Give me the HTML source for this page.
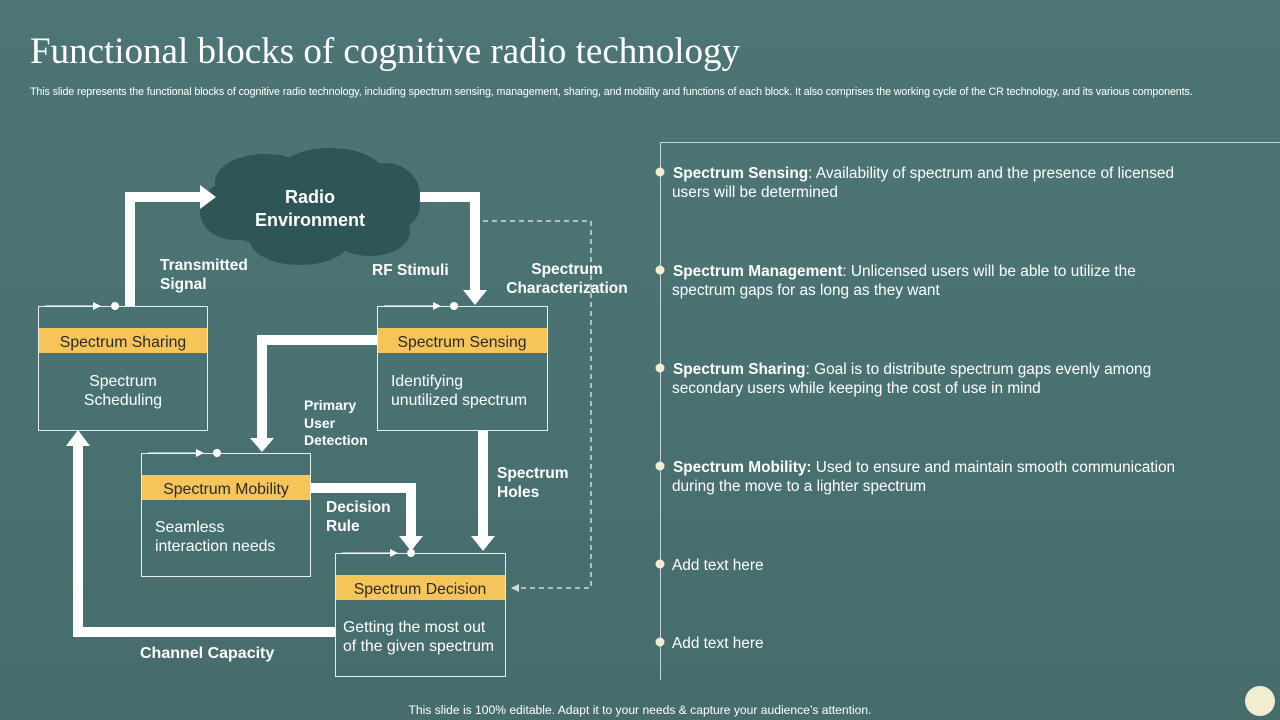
<!DOCTYPE html>
<html><head><meta charset="utf-8"><style>
body{margin:0}
#s{position:relative;width:1280px;height:720px;overflow:hidden;background:linear-gradient(180deg,#4d7575 0%,#4a7272 50%,#466c6c 100%);font-family:"Liberation Sans",sans-serif;color:#fff}
.t{position:absolute;white-space:nowrap}
</style></head><body><div id="s">
<div class="t" style="left:30px;top:30px;font-family:'Liberation Serif',serif;font-size:37px;">Functional blocks of cognitive radio technology</div>
<div class="t" style="left:30px;top:86px;font-size:10.7px;letter-spacing:-0.1px">This slide represents the functional blocks of cognitive radio technology, including spectrum sensing, management,  sharing, and mobility  and functions of each block. It also comprises the working cycle of the CR technology, and its various components.</div>
<svg width="1280" height="720" style="position:absolute;left:0;top:0" font-family="Liberation Sans, sans-serif">
<defs><marker id="a" markerWidth="8" markerHeight="8" refX="7" refY="4" orient="auto" markerUnits="userSpaceOnUse"><path d="M0,0L8,4L0,8z" fill="#fff"/></marker>
<marker id="d" markerWidth="8" markerHeight="8" refX="7" refY="4" orient="auto" markerUnits="userSpaceOnUse"><path d="M0,0L8,4L0,8z" fill="#cfdcdc"/></marker></defs>
<g fill="#2f5656">
<ellipse cx="310" cy="207" rx="110" ry="42"/><ellipse cx="265" cy="182" rx="50" ry="28"/><ellipse cx="330" cy="176" rx="55" ry="28"/><ellipse cx="385" cy="195" rx="35" ry="32"/><ellipse cx="235" cy="212" rx="35" ry="28"/><ellipse cx="300" cy="240" rx="50" ry="25"/><ellipse cx="370" cy="232" rx="40" ry="24"/>
</g>
<text x="310" y="203" text-anchor="middle" font-size="18" font-weight="bold" fill="#fff">Radio</text>
<text x="310" y="226" text-anchor="middle" font-size="18" font-weight="bold" fill="#fff">Environment</text>
<path d="M483,221H591V588H512" fill="none" stroke="#cfdcdc" stroke-width="1.5" stroke-dasharray="5,4" marker-end="url(#d)"/>
<g fill="none" stroke="#fff" stroke-width="10">
<path d="M130,306V197H200"/><path d="M420,197H475V292"/><path d="M377,340H262V440"/><path d="M483,430V538"/><path d="M310,488H411V538"/><path d="M335,632H78V444"/>
</g>
<g fill="#fff">
<path d="M200,185L216,197L200,209z"/><path d="M463,290L475,305L487,290z"/><path d="M250,438L262,452L274,438z"/><path d="M471,536L483,551L495,536z"/><path d="M399,536L411,551L423,536z"/><path d="M66,446L78,430L90,446z"/>
</g>
<g fill="none" stroke="#e8eeee" stroke-width="1">
<rect x="38.5" y="306.5" width="169" height="124"/><rect x="377.5" y="306.5" width="170" height="124"/><rect x="141.5" y="453.5" width="169" height="123"/><rect x="335.5" y="553.5" width="170" height="123"/>
</g>
<g fill="#f6c55a"><rect x="39" y="328" width="168" height="25"/><rect x="378" y="328" width="169" height="25"/><rect x="142" y="475" width="168" height="25"/><rect x="336" y="575" width="169" height="25"/></g>
<g fill="#fff"><circle cx="115" cy="306" r="4"/><circle cx="454" cy="306" r="4"/><circle cx="217" cy="453" r="4"/><circle cx="411" cy="553" r="4"/></g>
<g stroke="#fff" stroke-width="1" marker-end="url(#a)"><path d="M45,306H100"/><path d="M384,306H440"/><path d="M148,453H203"/><path d="M342,553H397"/></g>
<g font-size="15.8" fill="#2a2a2a" text-anchor="middle">
<text x="123" y="347">Spectrum Sharing</text><text x="462" y="347">Spectrum Sensing</text><text x="226" y="494">Spectrum Mobility</text><text x="420" y="594">Spectrum Decision</text></g>
<g font-size="15.8" fill="#fff">
<text x="123" y="386" text-anchor="middle">Spectrum</text><text x="123" y="405" text-anchor="middle">Scheduling</text>
<text x="391" y="386">Identifying</text><text x="391" y="405">unutilized  spectrum</text>
<text x="155" y="532">Seamless</text><text x="155" y="551">interaction needs</text>
<text x="343" y="632">Getting the most out</text><text x="343" y="651">of the given spectrum</text>
</g>
<g font-size="15.5" font-weight="bold" fill="#fff">
<text x="160" y="270">Transmitted</text><text x="160" y="289">Signal</text>
<text x="372" y="275">RF Stimuli</text>
<text x="567" y="274" text-anchor="middle">Spectrum</text><text x="567" y="293" text-anchor="middle">Characterization</text>
<text x="304" y="410" font-size="14">Primary</text><text x="304" y="428" font-size="14">User</text><text x="304" y="445" font-size="14">Detection</text>
<text x="497" y="478">Spectrum</text><text x="497" y="497">Holes</text>
<text x="326" y="512">Decision</text><text x="326" y="531">Rule</text>
<text x="140" y="658" font-size="16">Channel Capacity</text>
</g>
<path d="M660.5,142V680M660,142.5H1280" stroke="#c9d6d6" stroke-width="1" fill="none"/>
<g fill="#f2ecd0"><circle cx="660" cy="172" r="4.5"/><circle cx="660" cy="270" r="4.5"/><circle cx="660" cy="368" r="4.5"/><circle cx="660" cy="466" r="4.5"/><circle cx="660" cy="564" r="4.5"/><circle cx="660" cy="642" r="4.5"/><circle cx="1260" cy="701" r="15"/></g>
<g font-size="15.4" fill="#fff">
<text x="673" y="178"><tspan font-weight="bold">Spectrum Sensing</tspan>: Availability of spectrum and the presence of licensed</text>
<text x="672" y="197">users will be determined</text>
<text x="673" y="276"><tspan font-weight="bold">Spectrum Management</tspan>: Unlicensed users will be able to utilize  the</text>
<text x="672" y="295">spectrum gaps for as long as they  want</text>
<text x="673" y="374"><tspan font-weight="bold">Spectrum Sharing</tspan>: Goal is to distribute spectrum gaps evenly  among</text>
<text x="672" y="393">secondary users while keeping the cost of use in mind</text>
<text x="673" y="472"><tspan font-weight="bold">Spectrum Mobility:</tspan> Used to ensure and maintain smooth communication</text>
<text x="672" y="491">during the move to a lighter spectrum</text>
<text x="672" y="570">Add text here</text>
<text x="672" y="648">Add text here</text>
</g>
<text x="640" y="714" text-anchor="middle" font-size="12.1" fill="#fff">This slide is 100% editable. Adapt it to your needs &amp; capture your audience’s attention.</text>
</svg>
</div></body></html>
